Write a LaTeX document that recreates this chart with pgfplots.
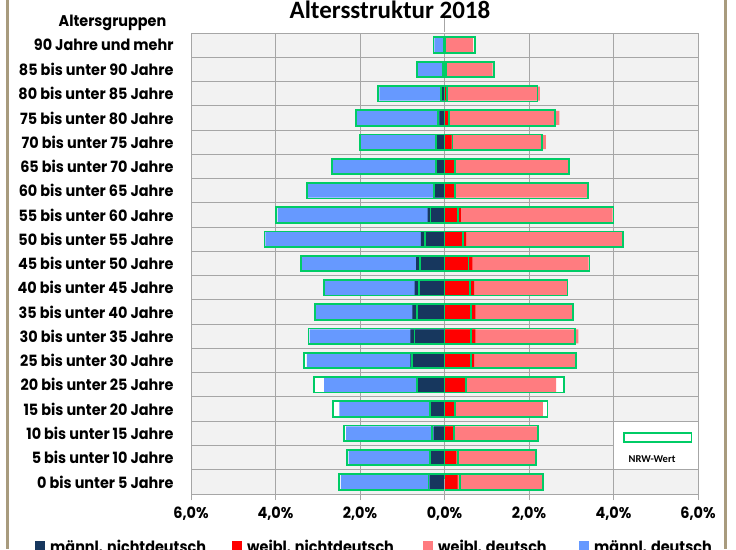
\documentclass[border=0pt]{standalone}
\usepackage{fontspec}
\usepackage{pgfplots}
\usepackage{pgfplotstable}
\pgfplotsset{compat=1.18}
\setmainfont{Carlito}
\newfontfamily\lab{Poppins}[FakeStretch=0.93]
\definecolor{mnd}{HTML}{17375E}
\definecolor{wnd}{HTML}{FF0000}
\definecolor{wd}{HTML}{FF7C80}
\definecolor{md}{HTML}{6699FF}
\definecolor{nrw}{HTML}{00CC66}
\definecolor{bg}{HTML}{F2F2F2}
\definecolor{grd}{HTML}{A6A6A6}
\definecolor{frame}{HTML}{A89B7E}

% y: row index (0 = 0 bis unter 5 ... 18 = 90 und mehr)
% mnd/mtot: maennl. nichtdeutsch / gesamt (negativ), n...: NRW-Wert
\pgfplotstableread{
y mnd mtot nmnd nmtot wnd wtot nwnd nwtot
0 -0.35 -2.45 -0.38 -2.49 0.31 2.33 0.36 2.34
1 -0.32 -2.27 -0.35 -2.30 0.28 2.15 0.31 2.17
2 -0.26 -2.33 -0.30 -2.37 0.21 2.20 0.23 2.22
3 -0.34 -2.49 -0.35 -2.64 0.23 2.33 0.25 2.44
4 -0.65 -2.85 -0.66 -3.08 0.51 2.64 0.50 2.82
5 -0.81 -3.26 -0.76 -3.32 0.70 3.09 0.62 3.12
6 -0.81 -3.19 -0.71 -3.22 0.73 3.17 0.63 3.09
7 -0.76 -3.04 -0.65 -3.06 0.73 3.04 0.63 3.05
8 -0.71 -2.85 -0.61 -2.86 0.70 2.90 0.61 2.91
9 -0.67 -3.38 -0.58 -3.40 0.66 3.41 0.57 3.43
10 -0.56 -4.24 -0.47 -4.26 0.51 4.22 0.43 4.23
11 -0.40 -3.95 -0.33 -3.98 0.39 3.98 0.32 4.00
12 -0.22 -3.24 -0.25 -3.26 0.22 3.38 0.25 3.40
13 -0.18 -2.65 -0.20 -2.67 0.22 2.97 0.25 2.95
14 -0.18 -1.98 -0.20 -2.00 0.17 2.40 0.19 2.30
15 -0.12 -2.08 -0.15 -2.10 0.08 2.72 0.11 2.62
16 -0.07 -1.54 -0.08 -1.57 0.05 2.26 0.06 2.20
17 -0.02 -0.63 -0.03 -0.66 0.02 1.14 0.03 1.17
18 -0.02 -0.24 -0.02 -0.26 0.02 0.68 0.02 0.72
}\data

\newcommand{\labf}{\lab\bfseries\fontsize{15.5}{17}\selectfont}

\begin{document}
\begin{tikzpicture}
\useasboundingbox (0,0) rectangle (736pt,549pt);
\clip (0,0) rectangle (736pt,549pt);
\fill[white] (0,0) rectangle (736pt,549pt);
\fill[frame] (5.5pt,0) rectangle (8.5pt,549pt);
\fill[frame] (723.5pt,0) rectangle (726.5pt,549pt);
\begin{axis}[
  at={(191pt,55pt)}, anchor=south west,
  scale only axis, width=507pt, height=461pt,
  xmin=-6, xmax=6, ymin=-0.5, ymax=18.5,
  axis background/.style={fill=bg},
  axis line style={grd, line width=0.8pt},
  xtick={-6,-4,...,6},
  xticklabels={{6,0\%},{4,0\%},{2,0\%},{0,0\%},{2,0\%},{4,0\%},{6,0\%}},
  xtick pos=bottom, tick align=outside, major tick length=6pt,
  xtick style={grd, line width=0.8pt},
  xticklabel style={font=\labf, yshift=-3pt},
  xmajorgrids, major grid style={grd, line width=0.9pt},
  ytick={0,...,18},
  yticklabels={0 bis unter 5 Jahre,5 bis unter 10 Jahre,10 bis unter 15 Jahre,15 bis unter 20 Jahre,20 bis unter 25 Jahre,25 bis unter 30 Jahre,30 bis unter 35 Jahre,35 bis unter 40 Jahre,40 bis unter 45 Jahre,45 bis unter 50 Jahre,50 bis unter 55 Jahre,55 bis unter 60 Jahre,60 bis unter 65 Jahre,65 bis unter 70 Jahre,70 bis unter 75 Jahre,75 bis unter 80 Jahre,80 bis unter 85 Jahre,85 bis unter 90 Jahre,90 Jahre und mehr},
  ytick style={draw=none},
  yticklabel style={font=\labf, anchor=east, xshift=-8pt},
  minor ytick={-0.5,0.5,...,18.5}, yminorgrids,
  minor grid style={grd, line width=0.9pt}, minor tick length=0pt,
  xbar, bar width=14pt,
  clip=false,
]
% NRW Hintergrund (weiss)
\addplot[xbar, bar shift=0pt, bar width=15.5pt, fill=white, draw=none, forget plot] table[x=nmtot,y=y]{\data};
\addplot[xbar, bar shift=0pt, bar width=15.5pt, fill=white, draw=none, forget plot] table[x=nwtot,y=y]{\data};
% Daten
\addplot[xbar, bar shift=0pt, bar width=14pt, fill=md, draw=none, forget plot] table[x=mtot,y=y]{\data};
\addplot[xbar, bar shift=0pt, bar width=14pt, fill=wd, draw=none, forget plot] table[x=wtot,y=y]{\data};
\addplot[xbar, bar shift=0pt, bar width=14pt, fill=mnd, draw=none, forget plot] table[x=mnd,y=y]{\data};
\addplot[xbar, bar shift=0pt, bar width=14pt, fill=wnd, draw=none, forget plot] table[x=wnd,y=y]{\data};
% NRW-Wert Umrisse
\addplot[xbar, bar shift=0pt, bar width=15.5pt, fill=none, draw=nrw, line width=1.8pt, forget plot] table[x=nmtot,y=y]{\data};
\addplot[xbar, bar shift=0pt, bar width=15.5pt, fill=none, draw=nrw, line width=1.8pt, forget plot] table[x=nwtot,y=y]{\data};
\addplot[xbar, bar shift=0pt, bar width=15.5pt, fill=none, draw=nrw, line width=1.8pt, forget plot] table[x=nmnd,y=y]{\data};
\addplot[xbar, bar shift=0pt, bar width=15.5pt, fill=none, draw=nrw, line width=1.8pt, forget plot] table[x=nwnd,y=y]{\data};
\addplot[grd, line width=0.9pt, forget plot] coordinates {(0,-0.5) (0,18.5)};
\end{axis}
% NRW-Wert Schluessel
\fill[white] (614pt,79.7pt) rectangle (698pt,127.3pt);
\draw[nrw, line width=1.8pt, fill=white] (624pt,107pt) rectangle (691.5pt,116pt);
\node[font=\bfseries\fontsize{10.5}{12}\selectfont, anchor=base] at (652pt,86.5pt) {NRW-Wert};
% Titel
\node[font=\bfseries\fontsize{25}{27}\selectfont, anchor=base] at (390pt,530.7pt) {Altersstruktur 2018};
\node[font=\labf, anchor=base] at (112.5pt,522.5pt) {Altersgruppen};
% Legende
\fill[mnd] (35pt,-2pt) rectangle (45pt,8pt);
\node[font=\labf, anchor=base west, inner sep=0pt] at (50pt,-3.5pt) {männl. nichtdeutsch};
\fill[wnd] (232pt,-2pt) rectangle (242pt,8pt);
\node[font=\labf, anchor=base west, inner sep=0pt] at (247pt,-3.5pt) {weibl. nichtdeutsch};
\fill[wd] (423pt,-2pt) rectangle (433pt,8pt);
\node[font=\labf, anchor=base west, inner sep=0pt] at (438pt,-3.5pt) {weibl. deutsch};
\fill[md] (579pt,-2pt) rectangle (589pt,8pt);
\node[font=\labf, anchor=base west, inner sep=0pt] at (594pt,-3.5pt) {männl. deutsch};
\end{tikzpicture}
\end{document}
